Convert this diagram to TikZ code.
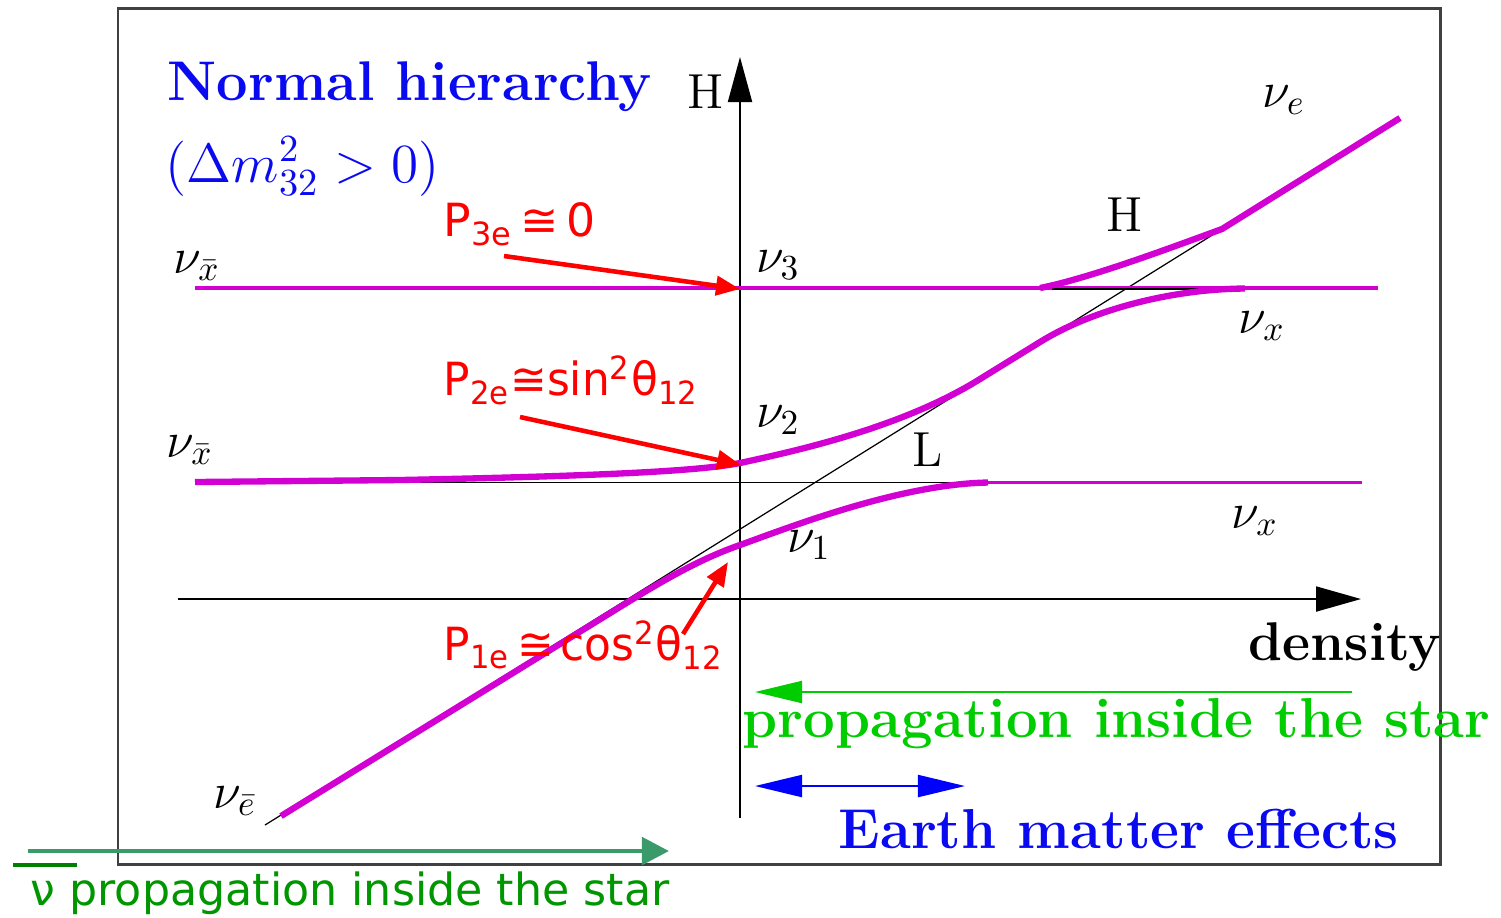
\documentclass[tikz,border=0pt]{standalone}
\usepackage{fontspec}
\usetikzlibrary{arrows.meta}
\newfontfamily\redfont{DejaVu Sans}
\definecolor{curvemag}{RGB}{210,0,210}
\definecolor{txtblue}{RGB}{10,10,240}
\definecolor{propgreen}{RGB}{0,205,0}
\definecolor{botgreen}{RGB}{0,150,0}
\definecolor{arrgreen}{RGB}{58,154,106}
\definecolor{overgreen}{RGB}{0,128,0}
\begin{document}
\begin{tikzpicture}[x=0.01cm,y=-0.01cm,
  framestyle/.style={line width=0.85pt, black!75},
  axisline/.style={line width=0.55pt, black},
  flatline/.style={line width=0.5pt, black},
  diagline/.style={line width=0.35pt, black},
  magthin/.style={line width=1.1pt, curvemag},
  magthick/.style={line width=1.8pt, curvemag},
  redarrow/.style={line width=1.3pt, red, -{Triangle[length=0.24cm,width=0.19cm]}},
  nulab/.style={font=\fontsize{14.4}{17}\selectfont, inner sep=0pt},
  crosslab/.style={font=\fontsize{14}{17}\selectfont, inner sep=0pt},
  bigbold/.style={font=\fontsize{16}{19}\selectfont\bfseries, inner sep=0pt, anchor=base west},
  redtext/.style={font=\fontsize{13}{16}\redfont, text=red, inner sep=0pt, anchor=base west},
]
\useasboundingbox (0,0) rectangle (1501,917);
\fill[white] (0,0) rectangle (1501,917);

% frame
\draw[framestyle] (118,8) rectangle (1440,864);

% axes
\coordinate (vbot) at (740,818);
\coordinate (vtop) at (740,57);
\coordinate (hleft) at (178,599);
\coordinate (hright) at (1361,599);
\draw[axisline, -{Triangle[length=0.45cm,width=0.24cm]}] (vbot) -- (vtop);
\draw[axisline, -{Triangle[length=0.45cm,width=0.25cm]}] (hleft) -- (hright);

% unperturbed levels
\coordinate (Lleft) at (195,482.5);
\coordinate (Lmid) at (988,482.5);
\coordinate (Lright) at (1362,482.5);
\coordinate (Hleft) at (195,288);
\coordinate (Hright) at (1378,288);
\coordinate (Hbs) at (1052,289);
\coordinate (Hbe) at (1245,289);
\coordinate (dlow) at (265,825);
\coordinate (dhigh) at (1222,229);

\draw[flatline] (Lleft) -- (Lmid);
\draw[diagline] (dlow) -- (dhigh);
\draw[magthin] (Hleft) -- (Hright);
\draw[magthin] (Lmid) -- (Lright);
\draw[flatline] (Hbs) -- (Hbe);

% matter eigenstates
\draw[magthick] (281,816) -- (615,610) .. controls (665,579) and (700,559) .. (740,545)
   .. controls (790,527) and (900,484) .. (988,482.5);
\draw[magthick] (195,482) -- (400,480) .. controls (600,476) and (700,471) .. (740,463)
   .. controls (790,452) and (900,429) .. (980,379) -- (1040,342)
   .. controls (1095,308) and (1175,289) .. (1245,288.5);
\draw[magthick] (1040,288) .. controls (1090,278) and (1170,248) .. (1222,229) -- (1400,118);

% labels
\node[nulab] (nxt) at (197,266) {$\nu_{\bar x}$};
\node[nulab] (nxm) at (190,450) {$\nu_{\bar x}$};
\node[nulab] (neb) at (235,801) {$\nu_{\bar e}$};
\node[nulab] (n3) at (778,265) {$\nu_3$};
\node[nulab] (n2) at (778,420) {$\nu_2$};
\node[nulab] (n1) at (809,545) {$\nu_1$};
\node[nulab] (ne) at (1284,100) {$\nu_e$};
\node[nulab] (nxu) at (1262,326) {$\nu_x$};
\node[nulab] (nxl) at (1255,521) {$\nu_x$};
\node[crosslab] (Hc) at (1125,215) {H};
\node[crosslab] (Lc) at (928,450) {L};
\node[crosslab] (Hax) at (706,92) {H};
\node[font=\fontsize{15.5}{18}\selectfont\bfseries, inner sep=0pt, anchor=base west] (dens) at (1248,660) {density};

\node[font=\fontsize{15.9}{19}\selectfont\bfseries, text=txtblue, inner sep=0pt, anchor=base west] (title) at (167,100) {Normal hierarchy};
\node[font=\fontsize{14.4}{18}\selectfont, text=txtblue, inner sep=0pt, anchor=base west] (cond) at (165,182) {\scalebox{1.09}{$(\Delta m^2_{32}>0)$}};

% red probabilities
\node[redtext] (p3) at (443,236) {P\textsubscript{3e}\,≅\,0};
\node[redtext] (p2) at (443,395) {\scalebox{0.96}[1]{P\textsubscript{2e}≅sin\textsuperscript{2}θ\textsubscript{12}}};
\node[redtext] (p1) at (443,660) {\scalebox{0.96}[1]{P\textsubscript{1e}\kern2pt≅\kern2pt cos\textsuperscript{2}θ\textsubscript{12}}};
\coordinate (r1s) at (504,256);
\coordinate (r1e) at (740,289);
\coordinate (r2s) at (520,417);
\coordinate (r2e) at (741,465);
\coordinate (r3s) at (683,634);
\coordinate (r3e) at (728,562);
\draw[redarrow] (r1s) -- (r1e);
\draw[redarrow] (r2s) -- (r2e);
\draw[redarrow] (r3s) -- (r3e);

% propagation arrows
\coordinate (gR) at (1352,692);
\coordinate (gL) at (755,692);
\draw[line width=0.6pt, propgreen, -{Triangle[length=0.47cm,width=0.22cm]}] (gR) -- (gL);
\node[bigbold, text=propgreen] (prop) at (742,737) {propagation inside the star};
\coordinate (bL) at (755,786);
\coordinate (bR) at (965,786);
\draw[line width=0.6pt, blue, {Triangle[length=0.47cm,width=0.22cm]}-{Triangle[length=0.47cm,width=0.22cm]}] (bL) -- (bR);
\node[bigbold, text=txtblue] (earth) at (838,848) {Earth matter effects};

% antineutrino propagation
\coordinate (aL) at (28,851);
\coordinate (aR) at (669,851);
\draw[line width=1.4pt, arrgreen, -{Triangle[length=0.27cm,width=0.27cm]}] (aL) -- (aR);
\coordinate (oL) at (13,865);
\coordinate (oR) at (77,865);
\draw[line width=1.1pt, overgreen] (oL) -- (oR);
\node[font=\fontsize{12.6}{16}\redfont, text=botgreen, inner sep=0pt, anchor=base west] (antiprop) at (30,905) {ν propagation inside the star};
\end{tikzpicture}
\end{document}
